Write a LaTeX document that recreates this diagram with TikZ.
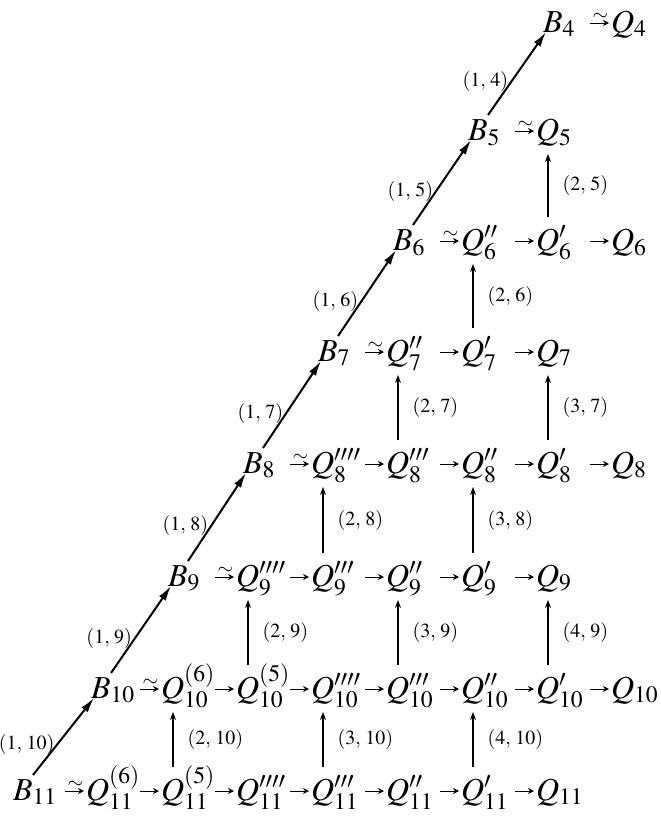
\documentclass[tikz,border=0pt]{standalone}
\usepackage{mathptmx}
\usetikzlibrary{arrows.meta,calc}
\tikzset{
  obj/.style={anchor=base west, inner sep=0pt, outer sep=0pt, text height=24pt, text depth=6pt, font=\fontsize{32}{38}\selectfont},
  lab/.style={inner sep=0pt, font=\fontsize{20}{23}\selectfont},
  darr/.style={line width=2pt, -{Latex[length=15pt,width=8pt]}},
  varr/.style={line width=1.1pt, -{Stealth[length=8pt,width=6pt]}},
  harr/.style={line width=1pt, -{Stealth[length=6pt,width=6pt]}, shorten >=2pt},
  hto/.style={to path={($(\tikztotarget)+(-21pt,0)$) -- (\tikztotarget) \tikztonodes}},
  tl/.style={inner sep=0pt, above=2.5pt, font=\fontsize{20}{20}\selectfont}
}
\begin{document}
\begin{tikzpicture}[x=1pt,y=-1pt]
\useasboundingbox (0,0) rectangle (661,817);
% row 4
\node[obj] (b4) at (543,32) {$B_{4}$};
\node[obj] (q4) at (611,32) {$Q_{4}$};
% row 5
\node[obj] (b5) at (468,140) {$B_{5}$};
\node[obj] (q5) at (536,140) {$Q_{5}$};
% row 6
\node[obj] (b6) at (393,250) {$B_{6}$};
\node[obj] (q6a) at (461,250) {$Q^{\prime\prime}_{6}$};
\node[obj] (q6b) at (536,250) {$Q^{\prime}_{6}$};
\node[obj] (q6c) at (611,250) {$Q_{6}$};
% row 7
\node[obj] (b7) at (318,361) {$B_{7}$};
\node[obj] (q7a) at (386,361) {$Q^{\prime\prime}_{7}$};
\node[obj] (q7b) at (461,361) {$Q^{\prime}_{7}$};
\node[obj] (q7c) at (536,361) {$Q_{7}$};
% row 8
\node[obj] (b8) at (243,473) {$B_{8}$};
\node[obj] (q8a) at (311,473) {$Q^{\prime\prime\prime\prime}_{8}$};
\node[obj] (q8b) at (386,473) {$Q^{\prime\prime\prime}_{8}$};
\node[obj] (q8c) at (461,473) {$Q^{\prime\prime}_{8}$};
\node[obj] (q8d) at (536,473) {$Q^{\prime}_{8}$};
\node[obj] (q8e) at (611,473) {$Q_{8}$};
% row 9
\node[obj] (b9) at (168,586) {$B_{9}$};
\node[obj] (q9a) at (236,586) {$Q^{\prime\prime\prime\prime}_{9}$};
\node[obj] (q9b) at (311,586) {$Q^{\prime\prime\prime}_{9}$};
\node[obj] (q9c) at (386,586) {$Q^{\prime\prime}_{9}$};
\node[obj] (q9d) at (461,586) {$Q^{\prime}_{9}$};
\node[obj] (q9e) at (536,586) {$Q_{9}$};
% row 10
\node[obj] (b10) at (91,698) {$B_{10}$};
\node[obj] (q10a) at (161,698) {$Q^{(6)}_{10}$};
\node[obj] (q10b) at (236,698) {$Q^{(5)}_{10}$};
\node[obj] (q10c) at (311,698) {$Q^{\prime\prime\prime\prime}_{10}$};
\node[obj] (q10d) at (386,698) {$Q^{\prime\prime\prime}_{10}$};
\node[obj] (q10e) at (461,698) {$Q^{\prime\prime}_{10}$};
\node[obj] (q10f) at (536,698) {$Q^{\prime}_{10}$};
\node[obj] (q10g) at (611,698) {$Q_{10}$};
% row 11
\node[obj] (b11) at (13,800) {$B_{11}$};
\node[obj] (q11a) at (86,800) {$Q^{(6)}_{11}$};
\node[obj] (q11b) at (161,800) {$Q^{(5)}_{11}$};
\node[obj] (q11c) at (236,800) {$Q^{\prime\prime\prime\prime}_{11}$};
\node[obj] (q11d) at (311,800) {$Q^{\prime\prime\prime}_{11}$};
\node[obj] (q11e) at (386,800) {$Q^{\prime\prime}_{11}$};
\node[obj] (q11f) at (461,800) {$Q^{\prime}_{11}$};
\node[obj] (q11g) at (536,800) {$Q_{11}$};

% diagonal arrows
\foreach \lo/\hi/\k in {b5/b4/4, b6/b5/5, b7/b6/6, b8/b7/7, b9/b8/8, b10/b9/9, b11/b10/10}
  \draw[darr] ([xshift=20pt,yshift=25pt]\lo.base west) --
     node[lab, pos=0.4, anchor=east, xshift=-2pt] {$(1,\,\k)$} ([xshift=3pt]\hi.base west);

% isomorphism arrows
\foreach \b/\q in {b4/q4, b5/q5, b6/q6a, b7/q7a, b8/q8a, b9/q9a, b10/q10a, b11/q11a}
  \draw[harr] (\b) to[hto] node[tl] {$\sim$} (\q.west);

% horizontal arrows
\foreach \a/\c in {q6a/q6b, q6b/q6c, q7a/q7b, q7b/q7c,
    q8a/q8b, q8b/q8c, q8c/q8d, q8d/q8e,
    q9a/q9b, q9b/q9c, q9c/q9d, q9d/q9e,
    q10a/q10b, q10b/q10c, q10c/q10d, q10d/q10e, q10e/q10f, q10f/q10g,
    q11a/q11b, q11b/q11c, q11c/q11d, q11d/q11e, q11e/q11f, q11f/q11g}
  \draw[harr] (\a) to[hto] (\c.west);

% vertical arrows
\foreach \lo/\hi/\t in {q6b/q5/{(2,\,5)}, q7b/q6a/{(2,\,6)}, q8b/q7a/{(2,\,7)}, q8d/q7c/{(3,\,7)},
    q9b/q8a/{(2,\,8)}, q9d/q8c/{(3,\,8)}, q10b/q9a/{(2,\,9)}, q10d/q9c/{(3,\,9)}, q10f/q9e/{(4,\,9)},
    q11b/q10a/{(2,\,10)}, q11d/q10c/{(3,\,10)}, q11f/q10e/{(4,\,10)}}
  \draw[varr] ([xshift=12pt,yshift=9pt]\lo.north west) --
     node[lab, right=14pt] {$\t$} ([xshift=12pt,yshift=-8pt]\hi.south west);
\end{tikzpicture}
\end{document}
